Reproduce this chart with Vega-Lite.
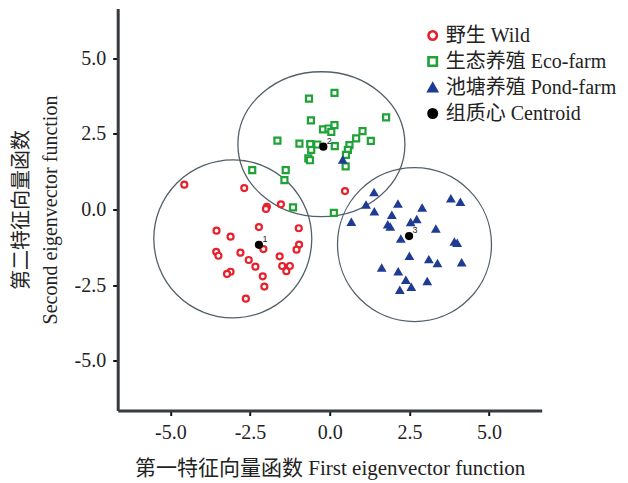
{
  "$schema": "https://vega.github.io/schema/vega-lite/v6.json",
  "width": 424,
  "height": 402,
  "autosize": {"type": "none"},
  "padding": {"left": 117.7, "top": 8.5, "right": 86.3, "bottom": 72.5},
  "background": "white",
  "config": {
    "view": {"stroke": null},
    "axis": {
      "grid": false,
      "domainColor": "#353b40",
      "domainWidth": 3,
      "tickColor": "#111111",
      "tickWidth": 2,
      "tickSize": 5,
      "labelFont": "Liberation Serif",
      "labelFontSize": 20,
      "labelColor": "#222222",
      "labelPadding": 7,
      "titleFont": "'Liberation Serif', 'Noto Sans CJK SC'",
      "titleFontSize": 20,
      "titleFontWeight": "normal",
      "titleColor": "#222222"
    },
    "legend": {
      "labelFont": "'Liberation Serif', 'Noto Sans CJK SC'",
      "labelFontSize": 20,
      "labelColor": "#222222",
      "labelLimit": 0,
      "symbolSize": 70,
      "symbolStrokeWidth": 2.6,
      "symbolOpacity": 1,
      "padding": 0,
      "rowPadding": 6,
      "labelOffset": 3
    }
  },
  "datasets": {
    "pts": [
      {"g": "野生 Wild", "x": -4.56, "y": 0.82},
      {"g": "野生 Wild", "x": -2.68, "y": 0.71},
      {"g": "野生 Wild", "x": -1.97, "y": 0.09},
      {"g": "野生 Wild", "x": -2.0, "y": 0.02},
      {"g": "野生 Wild", "x": -1.53, "y": 0.17},
      {"g": "野生 Wild", "x": -2.22, "y": -0.58},
      {"g": "野生 Wild", "x": -3.55, "y": -0.7},
      {"g": "野生 Wild", "x": -3.11, "y": -0.9},
      {"g": "野生 Wild", "x": -0.97, "y": -0.62},
      {"g": "野生 Wild", "x": -0.96, "y": -1.16},
      {"g": "野生 Wild", "x": -1.04, "y": -1.33},
      {"g": "野生 Wild", "x": -2.08, "y": -1.31},
      {"g": "野生 Wild", "x": -3.56, "y": -1.4},
      {"g": "野生 Wild", "x": -3.49, "y": -1.53},
      {"g": "野生 Wild", "x": -2.8, "y": -1.43},
      {"g": "野生 Wild", "x": -2.54, "y": -1.67},
      {"g": "野生 Wild", "x": -2.33, "y": -1.89},
      {"g": "野生 Wild", "x": -1.57, "y": -1.55},
      {"g": "野生 Wild", "x": -1.49, "y": -1.87},
      {"g": "野生 Wild", "x": -1.25, "y": -1.87},
      {"g": "野生 Wild", "x": -1.36, "y": -2.04},
      {"g": "野生 Wild", "x": -3.11, "y": -2.06},
      {"g": "野生 Wild", "x": -3.22, "y": -2.13},
      {"g": "野生 Wild", "x": -2.1, "y": -2.21},
      {"g": "野生 Wild", "x": -2.05, "y": -2.55},
      {"g": "野生 Wild", "x": -2.63, "y": -2.95},
      {"g": "野生 Wild", "x": 0.48, "y": 0.61},
      {"g": "生态养殖 Eco-farm", "x": -0.65, "y": 3.67},
      {"g": "生态养殖 Eco-farm", "x": 0.15, "y": 3.86},
      {"g": "生态养殖 Eco-farm", "x": 1.77, "y": 3.05},
      {"g": "生态养殖 Eco-farm", "x": -0.59, "y": 2.95},
      {"g": "生态养殖 Eco-farm", "x": -0.21, "y": 2.65},
      {"g": "生态养殖 Eco-farm", "x": -0.04, "y": 2.68},
      {"g": "生态养殖 Eco-farm", "x": 0.15, "y": 2.79},
      {"g": "生态养殖 Eco-farm", "x": 0.05, "y": 2.57},
      {"g": "生态养殖 Eco-farm", "x": 1.03, "y": 2.59},
      {"g": "生态养殖 Eco-farm", "x": 0.83, "y": 2.35},
      {"g": "生态养殖 Eco-farm", "x": 1.29, "y": 2.27},
      {"g": "生态养殖 Eco-farm", "x": -1.64, "y": 2.28},
      {"g": "生态养殖 Eco-farm", "x": -0.95, "y": 2.18},
      {"g": "生态养殖 Eco-farm", "x": -0.61, "y": 2.16},
      {"g": "生态养殖 Eco-farm", "x": -0.39, "y": 2.15},
      {"g": "生态养殖 Eco-farm", "x": 0.16, "y": 2.1},
      {"g": "生态养殖 Eco-farm", "x": -0.58, "y": 1.97},
      {"g": "生态养殖 Eco-farm", "x": 0.62, "y": 2.13},
      {"g": "生态养殖 Eco-farm", "x": 0.57, "y": 1.97},
      {"g": "生态养殖 Eco-farm", "x": 0.51, "y": 1.81},
      {"g": "生态养殖 Eco-farm", "x": -0.67, "y": 1.69},
      {"g": "生态养殖 Eco-farm", "x": -0.62, "y": 1.63},
      {"g": "生态养殖 Eco-farm", "x": 0.5, "y": 1.43},
      {"g": "生态养殖 Eco-farm", "x": -2.43, "y": 1.3},
      {"g": "生态养殖 Eco-farm", "x": -1.38, "y": 1.3},
      {"g": "生态养殖 Eco-farm", "x": -1.42, "y": 0.97},
      {"g": "生态养殖 Eco-farm", "x": -1.15, "y": 0.07},
      {"g": "生态养殖 Eco-farm", "x": 0.13, "y": -0.11},
      {"g": "池塘养殖 Pond-farm", "x": 1.39, "y": 0.56},
      {"g": "池塘养殖 Pond-farm", "x": 1.14, "y": 0.15},
      {"g": "池塘养殖 Pond-farm", "x": 1.4, "y": -0.08},
      {"g": "池塘养殖 Pond-farm", "x": 2.14, "y": 0.18},
      {"g": "池塘养殖 Pond-farm", "x": 2.9, "y": 0.05},
      {"g": "池塘养殖 Pond-farm", "x": 3.8, "y": 0.35},
      {"g": "池塘养殖 Pond-farm", "x": 4.1, "y": 0.24},
      {"g": "池塘养殖 Pond-farm", "x": 0.68, "y": -0.42},
      {"g": "池塘养殖 Pond-farm", "x": 1.95, "y": -0.19},
      {"g": "池塘养殖 Pond-farm", "x": 1.82, "y": -0.51},
      {"g": "池塘养殖 Pond-farm", "x": 1.9, "y": -0.58},
      {"g": "池塘养殖 Pond-farm", "x": 2.54, "y": -0.43},
      {"g": "池塘养殖 Pond-farm", "x": 2.73, "y": -0.33},
      {"g": "池塘养殖 Pond-farm", "x": 3.33, "y": -0.65},
      {"g": "池塘养殖 Pond-farm", "x": 2.23, "y": -0.98},
      {"g": "池塘养殖 Pond-farm", "x": 3.91, "y": -1.08},
      {"g": "池塘养殖 Pond-farm", "x": 4.0, "y": -1.12},
      {"g": "池塘养殖 Pond-farm", "x": 2.5, "y": -1.55},
      {"g": "池塘养殖 Pond-farm", "x": 3.11, "y": -1.66},
      {"g": "池塘养殖 Pond-farm", "x": 3.38, "y": -1.79},
      {"g": "池塘养殖 Pond-farm", "x": 4.14, "y": -1.76},
      {"g": "池塘养殖 Pond-farm", "x": 1.63, "y": -1.94},
      {"g": "池塘养殖 Pond-farm", "x": 2.15, "y": -2.06},
      {"g": "池塘养殖 Pond-farm", "x": 2.39, "y": -2.34},
      {"g": "池塘养殖 Pond-farm", "x": 3.06, "y": -2.38},
      {"g": "池塘养殖 Pond-farm", "x": 2.56, "y": -2.57},
      {"g": "池塘养殖 Pond-farm", "x": 2.2, "y": -2.67},
      {"g": "池塘养殖 Pond-farm", "x": 0.41, "y": 1.64},
      {"g": "组质心 Centroid", "x": -2.22, "y": -1.17, "label": "1"},
      {"g": "组质心 Centroid", "x": -0.2, "y": 2.08, "label": "2"},
      {"g": "组质心 Centroid", "x": 2.49, "y": -0.88, "label": "3"}
    ]
  },
  "layer": [
    {
      "data": {"values": [{"x": -3.04, "y": -0.97}]},
      "mark": {"type": "point", "shape": "circle", "filled": false, "size": 24964, "stroke": "#52606a", "strokeWidth": 1.3, "opacity": 1},
      "encoding": {
        "x": {"field": "x", "type": "quantitative", "scale": {"domain": [-6.65, 6.65], "nice": false, "zero": false},
          "axis": {"values": [-5, -2.5, 0, 2.5, 5], "labelExpr": "datum.value < 0 ? '-' + format(-datum.value, '.1f') : format(datum.value, '.1f')", "title": "第一特征向量函数 First eigenvector function", "titleFontSize": 21, "titleBaseline": "middle", "titleY": 58}},
        "y": {"field": "y", "type": "quantitative", "scale": {"domain": [-6.65, 6.65], "nice": false, "zero": false},
          "axis": {"values": [-5, -2.5, 0, 2.5, 5], "labelExpr": "datum.value < 0 ? '-' + format(-datum.value, '.1f') : format(datum.value, '.1f')", "title": ["第二特征向量函数", "Second eigenvector function"], "titleAngle": -90, "titleAlign": "center", "titleBaseline": "middle", "titleX": -96, "titleY": 201, "titleLineHeight": 29}}
      }
    },
    {
      "data": {"values": [{"x": -0.26, "y": 2.16}]},
      "mark": {"type": "point", "shape": "M-1,0A1,0.868,0,1,1,1,0A1,0.868,0,1,1,-1,0Z", "filled": false, "size": 27889, "stroke": "#52606a", "strokeWidth": 1.3, "opacity": 1},
      "encoding": {
        "x": {"field": "x", "type": "quantitative"},
        "y": {"field": "y", "type": "quantitative"}
      }
    },
    {
      "data": {"values": [{"x": 2.66, "y": -1.16}]},
      "mark": {"type": "point", "shape": "circle", "filled": false, "size": 23716, "stroke": "#52606a", "strokeWidth": 1.3, "opacity": 1},
      "encoding": {
        "x": {"field": "x", "type": "quantitative"},
        "y": {"field": "y", "type": "quantitative"}
      }
    },
    {
      "data": {"name": "pts"},
      "mark": {"type": "point", "size": 36, "strokeWidth": 2.2, "opacity": 1},
      "encoding": {
        "x": {"field": "x", "type": "quantitative"},
        "y": {"field": "y", "type": "quantitative"},
        "shape": {"field": "g", "type": "nominal",
          "scale": {"domain": ["野生 Wild", "生态养殖 Eco-farm", "池塘养殖 Pond-farm", "组质心 Centroid"], "range": ["circle", "square", "triangle-up", "circle"]},
          "legend": {"title": null, "orient": "none", "legendX": 305, "legendY": 17}},
        "stroke": {"field": "g", "type": "nominal",
          "scale": {"domain": ["野生 Wild", "生态养殖 Eco-farm", "池塘养殖 Pond-farm", "组质心 Centroid"], "range": ["#e8202c", "#1fa237", "#1f3b93", "#000000"]},
          "legend": {"title": null, "orient": "none", "legendX": 305, "legendY": 17}},
        "fill": {"field": "g", "type": "nominal",
          "scale": {"domain": ["野生 Wild", "生态养殖 Eco-farm", "池塘养殖 Pond-farm", "组质心 Centroid"], "range": ["#ffffff", "#ffffff", "#1f3b93", "#000000"]},
          "legend": {"title": null, "orient": "none", "legendX": 305, "legendY": 17}}
      }
    },
    {
      "data": {"name": "pts"},
      "transform": [{"filter": "datum.label != null"}],
      "mark": {"type": "text", "fontSize": 9, "dx": 6, "dy": -6, "font": "Liberation Sans", "color": "#222222"},
      "encoding": {
        "x": {"field": "x", "type": "quantitative"},
        "y": {"field": "y", "type": "quantitative"},
        "text": {"field": "label", "type": "nominal"}
      }
    }
  ]
}
